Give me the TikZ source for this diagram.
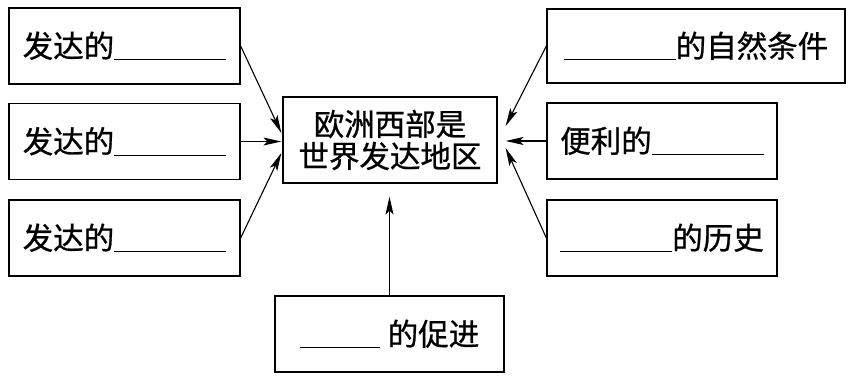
\documentclass[tikz,border=0pt]{standalone}
\usepackage{fontspec}
\setmainfont{Noto Sans CJK SC}[FakeBold=0.8]
\usetikzlibrary{positioning}
\usetikzlibrary{arrows.meta}
\usetikzlibrary{calc}
\newcommand{\blank}[1]{\rule[-3pt]{#1}{1.3pt}}
\tikzset{
    every node/.append style={font=\fontsize{30.5pt}{32pt}\selectfont, inner sep=0pt},
    box/.style={draw, line width=1.3pt, minimum height=76pt, align=center},
    arrow/.style={-{Stealth[length=18pt,width=8pt,inset=4pt]}, line width=1.1pt},
    x=1pt, y=1pt
}
\begin{document}
\begin{tikzpicture}
\useasboundingbox (0,0) rectangle (853,380);
\node[box, minimum width=214pt, minimum height=86pt] (C) at (390,240) {欧洲西部是\\世界发达地区};

\node[box, minimum width=231pt] (L1) at (124.5,334) {发达的\blank{112pt}};
\node[box, minimum width=231pt] (L2) at (124.5,238.5) {发达的\blank{112pt}};
\node[box, minimum width=231pt] (L3) at (124.5,142) {发达的\blank{112pt}};

\node[box, minimum width=298pt, minimum height=74pt] (R1) at (696,334) {\blank{112pt}的自然条件};
\node[box, minimum width=230pt] (R2) at (662,239) {便利的\blank{112pt}};
\node[box, minimum width=230pt] (R3) at (662,142) {\blank{112pt}的历史};

\node[box, minimum width=229pt] (B) at (389.5,46) {\blank{80pt}\hspace{8pt}的促进};

% left side
\draw[arrow] (L1.east) -- ($(C.west)+(-1,7)$);
\draw[arrow] (L2.east) -- ($(L2.east -| C.west)+(-1,0)$);
\draw[arrow] (L3.east) -- ($(C.west)+(-1,-13)$);
% right side
\draw[arrow] (R1.west) -- ($(C.east)+(8,14)$);
\draw[arrow] (R2.west) -- ($(R2.west -| C.east)+(8,0)$);
\draw[arrow] (R3.west) -- ($(C.east)+(8,-8)$);
% bottom
\draw[arrow] (B.north) -- ($(B.north |- C.south)+(0,-13)$);
\end{tikzpicture}
\end{document}
